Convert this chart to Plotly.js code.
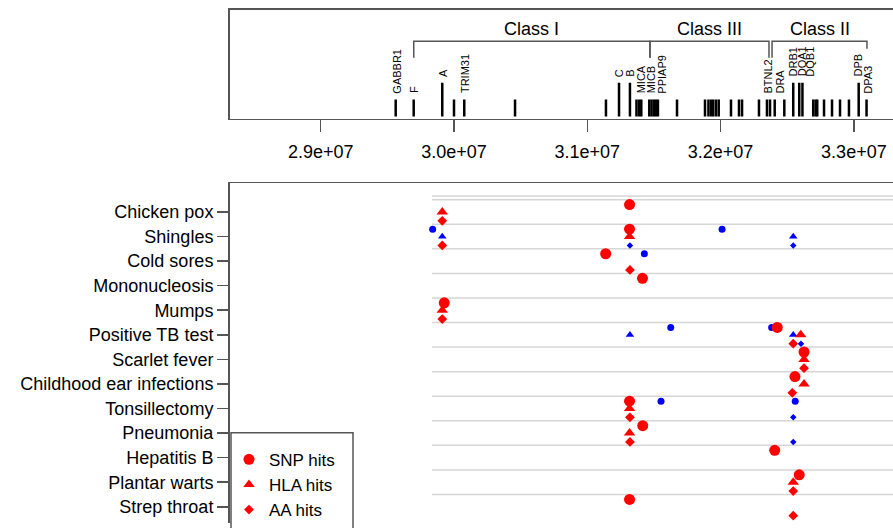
<!DOCTYPE html>
<html><head><meta charset="utf-8">
<script src="https://cdn.plot.ly/plotly-3.0.1.min.js"></script>
<style>html,body{margin:0;padding:0;overflow:hidden;background:#fff}#chart{width:893px;height:528px}</style>
</head><body><div id="chart"></div>
<script>
// ---------------- data ----------------
// gene positions on chr6 (bp) and bar height (1 = short, 2 = tall)
const genePos = [29.5626e6, 29.6977e6, 29.912e6, 30.000e6, 30.077e6, 30.458e6,
  31.140e6, 31.238e6, 31.320e6, 31.369e6, 31.388e6, 31.405e6,
  31.465e6, 31.482e6, 31.500e6, 31.515e6, 31.530e6, 31.673e6,
  31.883e6, 31.909e6, 31.928e6, 31.945e6, 31.966e6, 31.986e6,
  32.078e6, 32.138e6, 32.161e6, 32.288e6, 32.348e6, 32.371e6,
  32.406e6, 32.478e6, 32.545e6, 32.590e6, 32.614e6, 32.695e6,
  32.713e6, 32.725e6, 32.776e6, 32.836e6, 32.896e6, 32.963e6,
  33.036e6, 33.095e6];
const geneHeight = [1,1,2,1,1,1, 1,2,2,1,1,1, 1,1,1,1,1,1, 1,1,1,1,1,1,
  1,1,1,1,1,1, 1,1,2,2,2,1, 1,1,1,1,1,1, 2,1];

const labelNames = ['GABBR1','F','A','TRIM31','C','B','MICA','MICB','PPIAP9',
  'BTNL2','DRA','DRB1','DQA1','DQB1','DPB','DPA3'];
const labelPos = [29.570e6, 29.700e6, 29.912e6, 30.083e6, 31.234e6, 31.324e6,
  31.409e6, 31.484e6, 31.558e6, 32.356e6, 32.446e6, 32.545e6, 32.608e6,
  32.671e6, 33.033e6, 33.108e6];
const labelLevel = [1,1,2,1,2,2,1,1,1,1,1,2,2,2,2,1];

const classNames = ['Class I','Class III','Class II'];
const classStart = [29.698e6, 31.470e6, 32.386e6];
const classEnd   = [31.470e6, 32.363e6, 33.098e6];

const xTickVals = [2.9e7, 3.0e7, 3.1e7, 3.2e7, 3.3e7];
const xTickText = ['2.9e+07','3.0e+07','3.1e+07','3.2e+07','3.3e+07'];

const diseases = ['Chicken pox','Shingles','Cold sores','Mononucleosis','Mumps',
  'Positive TB test','Scarlet fever','Childhood ear infections','Tonsillectomy',
  'Pneumonia','Hepatitis B','Plantar warts','Strep throat'];

// SNP hits
const snpRedDisease = ['Chicken pox','Shingles','Cold sores','Mononucleosis','Mumps',
  'Positive TB test','Scarlet fever','Childhood ear infections','Tonsillectomy',
  'Pneumonia','Hepatitis B','Plantar warts','Strep throat'];
const snpRedPos = [31.317e6, 31.317e6, 31.138e6, 31.414e6, 29.927e6,
  32.425e6, 32.626e6, 32.558e6, 31.317e6, 31.416e6, 32.406e6, 32.590e6, 31.317e6];
const snpBlueDisease = ['Shingles','Shingles','Cold sores','Positive TB test',
  'Positive TB test','Tonsillectomy','Tonsillectomy'];
const snpBluePos = [29.840e6, 32.011e6, 31.428e6, 31.626e6, 32.383e6, 31.553e6, 32.560e6];

// HLA hits
const hlaRedDisease = ['Chicken pox','Shingles','Mumps','Positive TB test','Scarlet fever',
  'Childhood ear infections','Tonsillectomy','Pneumonia','Plantar warts'];
const hlaRedPos = [29.912e6, 31.317e6, 29.912e6, 32.601e6, 32.626e6,
  32.626e6, 31.317e6, 31.317e6, 32.545e6];
const hlaBlueDisease = ['Shingles','Shingles','Positive TB test','Positive TB test'];
const hlaBluePos = [29.912e6, 32.545e6, 31.320e6, 32.545e6];

// AA hits
const aaRedDisease = ['Chicken pox','Shingles','Cold sores','Mumps','Positive TB test',
  'Scarlet fever','Childhood ear infections','Tonsillectomy','Pneumonia',
  'Plantar warts','Strep throat'];
const aaRedPos = [29.912e6, 29.912e6, 31.320e6, 29.912e6, 32.545e6,
  32.626e6, 32.538e6, 31.320e6, 31.320e6, 32.545e6, 32.545e6];
const aaBlueDisease = ['Shingles','Shingles','Positive TB test','Tonsillectomy','Pneumonia'];
const aaBluePos = [31.320e6, 32.545e6, 32.603e6, 32.545e6, 32.545e6];

const sepStart = 29.835e6;

// ---------------- layout helpers ----------------
const W = 893, H = 528;
const FONT = 'Liberation Sans, Arial, Helvetica, sans-serif';
const RED = '#ff0000', BLUE = '#0000ff', AXC = '#555555';
const xRange = [28.3158e6, 33.2934e6];
const xDom = [229.5 / W, 1];
const topDom = [1 - 120 / H, 1 - 10 / H];
const botDom = [0, 1 - 185 / H];
const topYRange = [-0.147, 6.324];
const botYRange = [12.66, -1.169];

const rowOf = d => diseases.indexOf(d);
const OFF = {snp: -0.3, hla: 0, aa: 0.36};

// gene bars
const bx = [], by = [];
genePos.forEach((g, i) => { bx.push(g, g, null); by.push(0, geneHeight[i], null); });

const traces = [{
  x: bx, y: by, mode: 'lines', line: {color: '#000', width: 2.5},
  xaxis: 'x', yaxis: 'y', showlegend: false, hoverinfo: 'skip'
}];

function mk(pos, dis, off, symbol, size, color, name, legend) {
  return {x: pos, y: dis.map(d => rowOf(d) + off), mode: 'markers',
    marker: {symbol: symbol, size: size, color: color, line: {width: 0}},
    xaxis: 'x2', yaxis: 'y2', name: name, showlegend: legend, hoverinfo: 'skip'};
}
traces.push(mk(snpBluePos, snpBlueDisease, OFF.snp, 'circle', 7, BLUE, 'SNP', false));
traces.push(mk(hlaBluePos, hlaBlueDisease, OFF.hla, 'triangle-up', 7.5, BLUE, 'HLA', false));
traces.push(mk(aaBluePos, aaBlueDisease, OFF.aa, 'diamond', 5, BLUE, 'AA', false));
traces.push(mk(snpRedPos, snpRedDisease, OFF.snp, 'circle', 11, RED, 'SNP hits', true));
traces.push(mk(hlaRedPos, hlaRedDisease, OFF.hla, 'triangle-up', 10, RED, 'HLA hits', true));
traces.push(mk(aaRedPos, aaRedDisease, OFF.aa, 'diamond', 7.5, RED, 'AA hits', true));

const annotations = labelNames.map((n, i) => ({
  x: labelPos[i], y: labelLevel[i] + 0.3, xref: 'x', yref: 'y', text: n,
  textangle: -90, showarrow: false, xanchor: 'center', yanchor: 'bottom',
  borderpad: 0, font: {family: FONT, size: 11, color: '#000'}
}));
classNames.forEach((n, i) => annotations.push({
  x: (classStart[i] + classEnd[i]) / 2, y: 5.21, xref: 'x', yref: 'y', text: n,
  showarrow: false, xanchor: 'center', yanchor: 'middle',
  font: {family: FONT, size: 18, color: '#000'}
}));

const shapes = [];
classNames.forEach((n, i) => {
  const rDrop = (i === classNames.length - 1) ? 4.01 : 3.48;
  shapes.push({type: 'path', xref: 'x', yref: 'y',
    path: `M${classStart[i]},3.48 L${classStart[i]},4.46 L${classEnd[i]},4.46 L${classEnd[i]},${rDrop}`,
    line: {color: AXC, width: 1.5}});
});
const sepYs = [-0.65];
for (let k = 0; k < diseases.length; k++) sepYs.push(k - 0.5);
sepYs.forEach(y => shapes.push({type: 'line', xref: 'x2', yref: 'y2', layer: 'below',
  x0: sepStart, x1: xRange[1], y0: y, y1: y, line: {color: '#d6d6d6', width: 1.5}}));
// legend frame
shapes.push({type: 'rect', xref: 'paper', yref: 'paper', layer: 'above',
  x0: 231 / W, x1: 353 / W, y0: -0.2, y1: 1 - 437 / H,
  line: {color: AXC, width: 1.5}, fillcolor: '#fff'});

const layout = {
  width: W, height: H, margin: {l: 0, r: 0, t: 0, b: 0},
  paper_bgcolor: '#fff', plot_bgcolor: '#fff',
  font: {family: FONT, color: '#000', size: 18},
  showlegend: true,
  legend: {x: 229 / W, y: 1 - 446 / H, xanchor: 'left', yanchor: 'top',
    bgcolor: 'rgba(0,0,0,0)', borderwidth: 0, font: {family: FONT, size: 17, color: '#000'},
    itemsizing: 'trace'},
  xaxis: {domain: xDom, range: xRange, anchor: 'y', tickvals: xTickVals, ticktext: xTickText,
    ticks: 'outside', ticklen: 12, tickwidth: 1.5, tickcolor: AXC, showline: true, mirror: true,
    linecolor: AXC, linewidth: 1.5, showgrid: false, zeroline: false, ticklabelstandoff: 4,
    tickfont: {family: FONT, size: 18, color: '#000'}},
  yaxis: {domain: topDom, range: topYRange, anchor: 'x', showline: true, linecolor: AXC,
    linewidth: 1.5, ticks: '', showticklabels: false, showgrid: false, zeroline: false},
  xaxis2: {domain: xDom, range: xRange, anchor: 'y2', side: 'top', showline: true,
    linecolor: AXC, linewidth: 1.5, ticks: '', showticklabels: false, showgrid: false, zeroline: false},
  yaxis2: {domain: botDom, range: botYRange, anchor: 'x2', tickvals: diseases.map((d, i) => i),
    ticktext: diseases, ticks: 'outside', ticklen: 11, tickwidth: 1.5, tickcolor: AXC,
    showline: true, linecolor: AXC, linewidth: 1.5, showgrid: false, zeroline: false,
    tickfont: {family: FONT, size: 18, color: '#000'}},
  annotations: annotations,
  shapes: shapes
};

Plotly.newPlot('chart', traces, layout, {staticPlot: true, displayModeBar: false});
</script>
</body></html>
